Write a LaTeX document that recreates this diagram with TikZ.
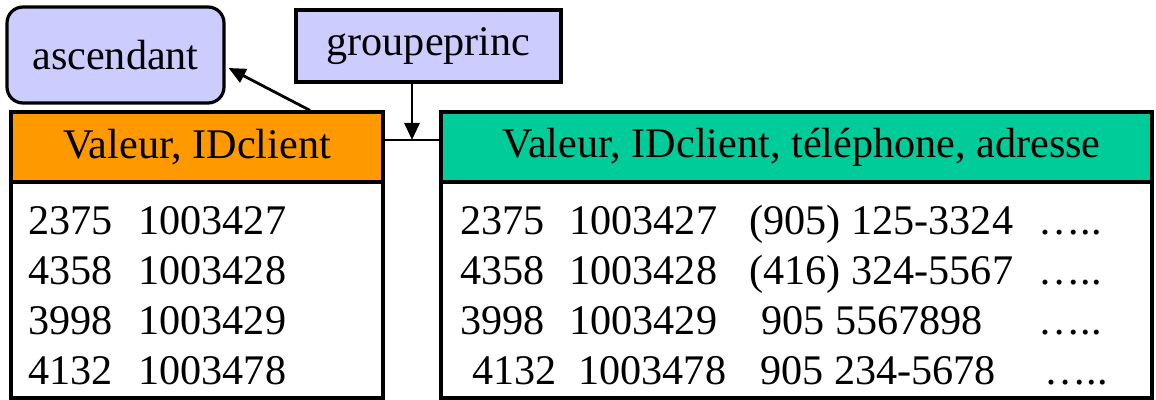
\documentclass[tikz,border=0pt]{standalone}
\usepackage{fontspec}
\setmainfont{Liberation Serif}
\usetikzlibrary{arrows.meta}
\definecolor{lavande}{HTML}{CCCCFF}
\definecolor{orangeh}{HTML}{FF9900}
\definecolor{vertt}{HTML}{00CC99}
\tikzset{
  boite/.style={draw, line width=1.6pt, inner sep=0pt},
  cellule/.style={anchor=base west, inner sep=0pt},
  fleche/.style={line width=1.4pt, -{Triangle[length=8.5pt,width=7.5pt]}},
}
\begin{document}
\begin{tikzpicture}[x=0.5pt, y=-0.5pt, every node/.style={font=\fontsize{21.1}{24}\selectfont}]
    \useasboundingbox (0,0) rectangle (1156,400);
    % Index
    \node[boite, fill=lavande, rounded corners=8pt, minimum width=108.5pt, minimum height=48pt] (ascendant) at (115.5,55) {ascendant};
    \node[boite, fill=lavande, minimum width=132.5pt, minimum height=36pt] (groupeprinc) at (428.5,46) {groupeprinc};
    % Tables
    \node[boite, fill=orangeh, minimum width=186pt, minimum height=35pt] (enteteg) at (197,147) {Valeur, IDclient};
    \node[boite, fill=white, minimum width=186pt, minimum height=108pt] (corpsg) at (197,290) {};
    \node[boite, fill=vertt, minimum width=355.5pt, minimum height=35pt] (ented) at (796.5,147) {\hspace{5pt}Valeur, IDclient, t\'el\'ephone, adresse};
    \node[boite, fill=white, minimum width=355.5pt, minimum height=108pt] (corpsd) at (796.5,290) {};
    % Liens
    \coordinate (jonction) at (412,140);
    \draw[line width=1.4pt] (jonction -| enteteg.east) -- (jonction -| ented.west);
    \draw[fleche] (groupeprinc.south -| jonction) -- (jonction);
    \draw[fleche] ([xshift=56.5pt]enteteg.north) -- ([xshift=1.5pt, yshift=-6.5pt]ascendant.east);
    % Lignes gauche
    \foreach \n/\v/\id in {1/2375/1003427, 2/4358/1003428, 3/3998/1003429, 4/4132/1003478} {
        \node[cellule] (gv\n) at (28,185+50*\n) {\v};
        \node[cellule] (gi\n) at (138,185+50*\n) {\id};
    }
    % Lignes droite
    \foreach \n/\xa/\v/\xb/\id/\xc/\tel/\xd in {
        1/460/2375/569/1003427/749/{(905) 125-3324}/1038,
        2/460/4358/569/1003428/749/{(416) 324-5567}/1038,
        3/460/3998/569/1003429/761/{905 5567898}/1038,
        4/472/4132/578/1003478/760/{905 234-5678}/1044} {
        \node[cellule] (dv\n) at (\xa,185+50*\n) {\v};
        \node[cellule] (di\n) at (\xb,185+50*\n) {\id};
        \node[cellule] (dt\n) at (\xc,185+50*\n) {\tel};
        \node[cellule] (dp\n) at (\xd,185+50*\n) {…..};
    }
\end{tikzpicture}
\end{document}
